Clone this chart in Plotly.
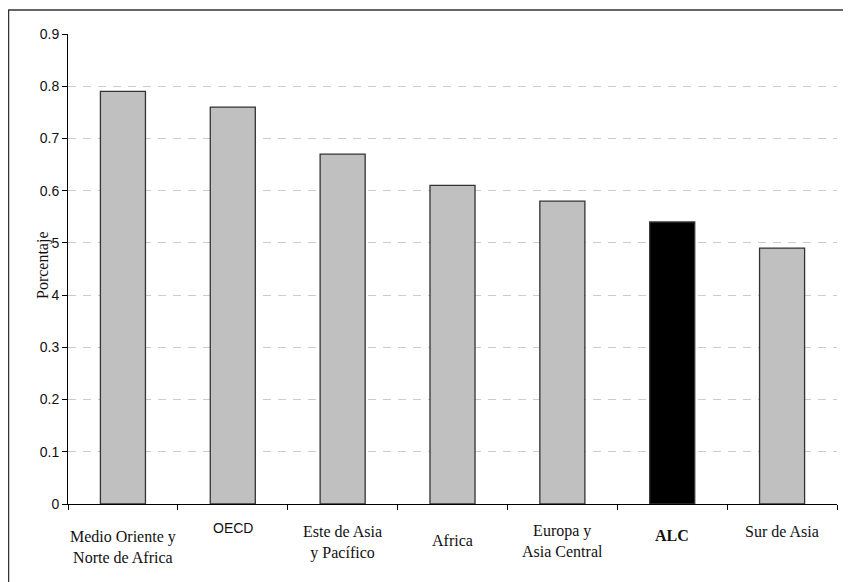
import plotly.graph_objects as go

categories = ["Medio Oriente y<br>Norte de Africa", "OECD", "Este de Asia<br>y Pacífico",
              "Africa", "Europa y<br>Asia Central", "<b>ALC</b>", "Sur de Asia"]
values = [0.79, 0.76, 0.67, 0.61, 0.58, 0.54, 0.49]
bar_colors = ["#c0c0c0", "#c0c0c0", "#c0c0c0", "#c0c0c0", "#c0c0c0", "#000000", "#c0c0c0"]
label_fonts = ["Liberation Serif", "Liberation Sans Narrow, Liberation Sans", "Liberation Serif",
               "Liberation Serif", "Liberation Serif", "Liberation Serif", "Liberation Serif"]
label_sizes = [16, 14, 16, 16, 16, 16, 16]
label_centers_px = [547, 528, 542, 540, 541, 535, 531]
ytick_vals = [0, 0.1, 0.2, 0.3, 0.4, 0.5, 0.6, 0.7, 0.8, 0.9]
ytick_text = ["0", "0.1", "0.2", "0.3", "4", "5", "0.6", "0.7", "0.8", "0.9"]

OFF = 8  # page body margin
W, H = 851 - OFF, 582 - OFF
L, T = 68 - OFF, 34 - OFF
pw, ph = 769, 470
R, B = W - L - pw, H - T - ph


def px_x(page_x):
    return (page_x - OFF - L) / pw


def px_y(page_y):
    return (T + ph - (page_y - OFF)) / ph


fig = go.Figure(go.Bar(
    x=list(range(len(categories))), y=values,
    marker=dict(color=bar_colors, line=dict(color="#333333", width=1.3)),
    width=0.41,
))

annotations = []
for i, (c, f, s, py) in enumerate(zip(categories, label_fonts, label_sizes, label_centers_px)):
    annotations.append(dict(
        x=i, xref="x", y=px_y(py), yref="paper", text=c, showarrow=False,
        xanchor="center", yanchor="middle",
        font=dict(family=f, size=s, color="#111111"),
    ))
annotations.append(dict(
    x=px_x(32), xref="paper", y=px_y(265), yref="paper",
    text="Porcentaje", textangle=-90, showarrow=False,
    font=dict(family="Liberation Serif", size=16, color="#111111"),
))

shapes = [
    dict(type="line", xref="paper", yref="paper", x0=px_x(8), x1=px_x(860),
         y0=px_y(10), y1=px_y(10), line=dict(color="#333333", width=1.5)),
    dict(type="line", xref="paper", yref="paper", x0=px_x(8.5), x1=px_x(8.5),
         y0=px_y(10), y1=px_y(600), line=dict(color="#333333", width=1.5)),
]

fig.update_layout(
    width=W, height=H, margin=dict(l=L, r=R, t=T, b=B),
    paper_bgcolor="white", plot_bgcolor="white", showlegend=False,
    annotations=annotations, shapes=shapes,
    xaxis=dict(range=[-0.5, len(categories) - 0.5], showticklabels=False,
               tickvals=[i - 0.5 for i in range(len(categories) + 1)],
               ticks="outside", ticklen=5, tickcolor="#000000",
               showline=True, linecolor="#000000", linewidth=1, showgrid=False, zeroline=False),
    yaxis=dict(range=[0, 0.9], tickvals=ytick_vals, ticktext=ytick_text,
               ticks="outside", ticklen=5, tickcolor="#000000",
               showline=True, linecolor="#000000", linewidth=1,
               showgrid=True, gridcolor="#cccccc", griddash="8px,7px", gridwidth=1,
               zeroline=False,
               tickfont=dict(family="Liberation Sans", size=14, color="#111111")),
)

fig.write_html("out.html")
